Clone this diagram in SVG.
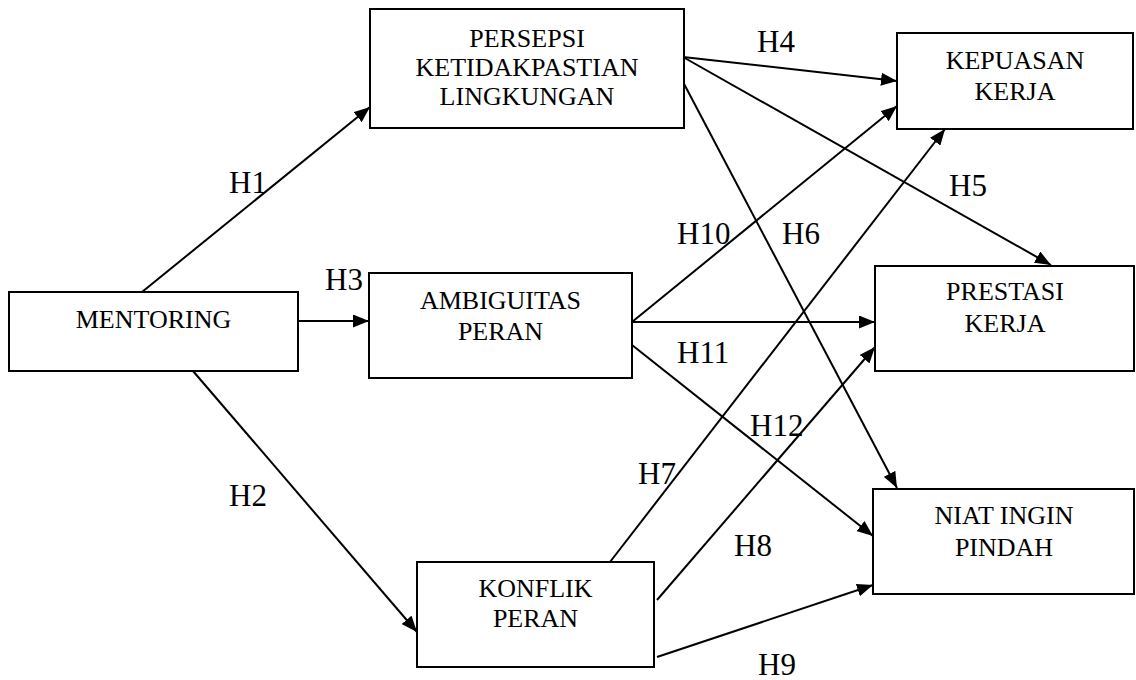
<svg xmlns="http://www.w3.org/2000/svg" width="1136" height="680" viewBox="0 0 1136 680">
<style>
.box{fill:#fff;stroke:#000;stroke-width:2}
.t{font-family:'Liberation Serif','DejaVu Serif',serif;font-size:26px;fill:#000;text-anchor:middle}
.h{font-family:'Liberation Serif','DejaVu Serif',serif;font-size:31px;fill:#000}
.c{stroke:#000;stroke-width:2;fill:none;marker-end:url(#ah)}
</style>
<defs>
<marker id="ah" markerUnits="userSpaceOnUse" markerWidth="16" markerHeight="13" refX="16" refY="6.5" orient="auto">
<path d="M0,0 L16,6.5 L0,13 z" fill="#000"/>
</marker>
</defs>
<rect width="1136" height="680" fill="#fff"/>
<g id="connectors">
<line class="c" x1="142" y1="292" x2="370" y2="107"/>
<line class="c" x1="193" y1="371" x2="417" y2="632"/>
<line class="c" x1="298" y1="321" x2="369" y2="321"/>
<line class="c" x1="683" y1="57" x2="897" y2="81"/>
<line class="c" x1="683" y1="57" x2="1051" y2="265"/>
<line class="c" x1="682" y1="80" x2="897" y2="488"/>
<line class="c" x1="632" y1="322" x2="897" y2="106"/>
<line class="c" x1="632" y1="322" x2="875" y2="322"/>
<line class="c" x1="632" y1="345" x2="873" y2="536"/>
<line class="c" x1="610" y1="562" x2="945" y2="129"/>
<line class="c" x1="657" y1="600" x2="875" y2="347"/>
<line class="c" x1="657" y1="657" x2="873" y2="585"/>
</g>
<g id="labels">
<text class="h" x="229" y="193">H1</text>
<text class="h" x="229" y="506">H2</text>
<text class="h" x="325" y="290">H3</text>
<text class="h" x="757" y="52">H4</text>
<text class="h" x="949" y="196">H5</text>
<text class="h" x="782" y="244">H6</text>
<text class="h" x="638" y="484">H7</text>
<text class="h" x="734" y="556">H8</text>
<text class="h" x="758" y="675">H9</text>
<text class="h" x="677" y="244">H10</text>
<text class="h" x="677" y="363">H11</text>
<text class="h" x="750" y="436">H12</text>
</g>
<g id="mentoring">
<rect class="box" x="9" y="292" width="289" height="79"/>
<text class="t" x="153.5" y="328">MENTORING</text>
</g>
<g id="persepsi">
<rect class="box" x="370" y="9" width="314" height="119"/>
<text class="t" x="527" y="47">PERSEPSI</text>
<text class="t" x="527" y="76">KETIDAKPASTIAN</text>
<text class="t" x="527" y="105">LINGKUNGAN</text>
</g>
<g id="ambiguitas">
<rect class="box" x="369" y="273" width="263" height="105"/>
<text class="t" x="500.5" y="309">AMBIGUITAS</text>
<text class="t" x="500.5" y="340">PERAN</text>
</g>
<g id="konflik">
<rect class="box" x="417" y="562" width="237" height="105"/>
<text class="t" x="535.5" y="597">KONFLIK</text>
<text class="t" x="535.5" y="627">PERAN</text>
</g>
<g id="kepuasan">
<rect class="box" x="897" y="33" width="236" height="96"/>
<text class="t" x="1015" y="69">KEPUASAN</text>
<text class="t" x="1015" y="100">KERJA</text>
</g>
<g id="prestasi">
<rect class="box" x="875" y="266" width="259" height="105"/>
<text class="t" x="1005" y="300">PRESTASI</text>
<text class="t" x="1005" y="332">KERJA</text>
</g>
<g id="niat">
<rect class="box" x="873" y="489" width="261" height="105"/>
<text class="t" x="1004" y="524">NIAT INGIN</text>
<text class="t" x="1004" y="556">PINDAH</text>
</g>
</svg>
